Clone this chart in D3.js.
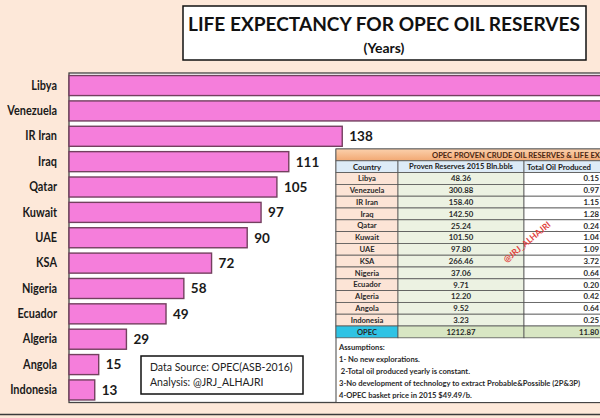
<!DOCTYPE html>
<html>
<head>
<meta charset="utf-8">
<script src="https://cdn.jsdelivr.net/npm/d3@7/dist/d3.min.js"></script>
<style>
  html, body { margin: 0; padding: 0; background: #fde8d9; }
  svg { display: block; font-family: Lato, "Open Sans", sans-serif; }
</style>
</head>
<body>
<svg id="chart" width="600" height="418"></svg>
<script>
// ---------- data ----------
const countries = ["Libya", "Venezuela", "IR Iran", "Iraq", "Qatar", "Kuwait", "UAE", "KSA", "Nigeria", "Ecuador", "Algeria", "Angola", "Indonesia"];
const lifeYears = [322, 310, 138, 111, 105, 97, 90, 72, 58, 49, 29, 15, 13];
const reserves = ["48.36", "300.88", "158.40", "142.50", "25.24", "101.50", "97.80", "266.46", "37.06", "9.71", "12.20", "9.52", "3.23"];
const produced = ["0.15", "0.97", "1.15", "1.28", "0.24", "1.04", "1.09", "3.72", "0.64", "0.20", "0.42", "0.64", "0.25"];
const opecTotal = ["OPEC", "1212.87", "11.80"];
const tableTitle = "OPEC PROVEN CRUDE OIL RESERVES & LIFE EXPECTANCY";
const colHeaders = ["Country", "Proven Reserves 2015 Bln.bbls", "Total Oil Produced"];
const assumptions = [
  "Assumptions:",
  "1- No new explorations.",
  " 2-Total oil produced yearly is constant.",
  "3-No development of technology to extract Probable&Possible (2P&3P)",
  "4-OPEC basket price in 2015 $49.49/b."
];
const titleText = "LIFE EXPECTANCY FOR OPEC OIL RESERVES";
const subtitleText = "(Years)";
const sourceLines = ["Data Source: OPEC(ASB-2016)", "Analysis: @JRJ_ALHAJRI"];
const watermark = "@JRJ_ALHAJRI";

// ---------- setup ----------
const svg = d3.select("#chart");
const W = 600, H = 418;

svg.append("rect").attr("x", 0).attr("y", 0).attr("width", W).attr("height", H).attr("fill", "#fde8d9");

// title box
svg.append("rect").attr("x", 183).attr("y", 6).attr("width", 403).attr("height", 54)
  .attr("fill", "#ffffff").attr("stroke", "#111").attr("stroke-width", 1.5);
svg.append("text").attr("x", 384).attr("y", 31).attr("text-anchor", "middle")
  .attr("font-size", 18).attr("font-weight", 700).attr("fill", "#111")
  .attr("textLength", 392).attr("lengthAdjust", "spacingAndGlyphs")
  .text(titleText);
svg.append("text").attr("x", 384).attr("y", 53).attr("text-anchor", "middle")
  .attr("font-size", 14).attr("font-weight", 700).attr("fill", "#111")
  .text(subtitleText);

// plot frame
const plotTop = 73, plotBottom = 402.5, plotLeft = 69;
svg.append("rect").attr("x", plotLeft).attr("y", plotTop).attr("width", W + 20 - plotLeft).attr("height", plotBottom - plotTop)
  .attr("fill", "#ffffff").attr("stroke", "#444").attr("stroke-width", 1.3);

// scales
const x = d3.scaleLinear().domain([0, 300]).range([plotLeft, plotLeft + 594]);
const y = d3.scaleBand().domain(countries).range([plotTop, plotBottom]).paddingInner(0.21).paddingOuter(0.1);

// bars
const bars = svg.append("g");
bars.selectAll("rect").data(countries).join("rect")
  .attr("x", x(0))
  .attr("y", d => y(d))
  .attr("width", (d, i) => x(lifeYears[i]) - x(0))
  .attr("height", y.bandwidth())
  .attr("fill", "#f57edb")
  .attr("stroke", "#73405f")
  .attr("stroke-width", 1.4);

// value labels (those past the right edge are off-canvas in the original, so skipped)
const visible = countries.map((c, i) => ({ c, v: lifeYears[i] })).filter(d => x(d.v) + 7 < W - 20);
bars.selectAll("text").data(visible).join("text")
  .attr("x", d => x(d.v) + 7)
  .attr("y", d => y(d.c) + y.bandwidth() / 2)
  .attr("dy", "0.36em")
  .attr("font-size", 13.5).attr("font-weight", 700).attr("fill", "#1a1a1a")
  .text(d => d.v);

// category axis labels
const yAxis = d3.axisLeft(y).tickSize(0).tickPadding(0);
const ax = svg.append("g").attr("transform", `translate(57,0)`).call(yAxis);
ax.select(".domain").remove();
ax.selectAll("text").attr("font-size", 13).attr("font-weight", 700).attr("fill", "#1a1a1a")
  .attr("font-family", 'Lato, "Open Sans", sans-serif')
  .attr("transform", "scale(0.84,1)");

// ---------- table ----------
const tX = 336, tTop = 149, rowH = 11.8;
const colX = [336, 398, 524, 720];
const tbl = svg.append("g");
tbl.append("rect").attr("x", tX).attr("y", tTop).attr("width", W - tX + 10).attr("height", plotBottom - tTop)
  .attr("fill", "#ffffff").attr("stroke", "#444").attr("stroke-width", 1);

// header row
const grad = svg.append("defs").append("linearGradient").attr("id", "hdr").attr("x1", 0).attr("y1", 0).attr("x2", 0).attr("y2", 1);
grad.append("stop").attr("offset", "0%").attr("stop-color", "#fbd0ac");
grad.append("stop").attr("offset", "100%").attr("stop-color", "#f2a872");
tbl.append("rect").attr("x", tX).attr("y", tTop).attr("width", W - tX + 10).attr("height", rowH)
  .attr("fill", "url(#hdr)").attr("stroke", "#555").attr("stroke-width", 0.8);
tbl.append("text").attr("x", 432).attr("y", tTop + rowH / 2).attr("dy", "0.36em")
  .attr("font-size", 7.6).attr("font-weight", 700).attr("fill", "#4a2612")
  .text(tableTitle);

// column headers
const chY = tTop + rowH;
colHeaders.forEach((h, c) => {
  tbl.append("rect").attr("x", colX[c]).attr("y", chY).attr("width", colX[c + 1] - colX[c]).attr("height", rowH)
    .attr("fill", "#ddebf7").attr("stroke", "#555").attr("stroke-width", 0.8);
});
tbl.append("text").attr("x", (colX[0] + colX[1]) / 2).attr("y", chY + rowH / 2).attr("dy", "0.36em")
  .attr("text-anchor", "middle").attr("font-size", 7.8).attr("font-weight", 700).attr("fill", "#222").text(colHeaders[0]);
tbl.append("text").attr("x", (colX[1] + colX[2]) / 2).attr("y", chY + rowH / 2).attr("dy", "0.36em")
  .attr("text-anchor", "middle").attr("font-size", 7.6).attr("font-weight", 700).attr("fill", "#222").text(colHeaders[1]);
tbl.append("text").attr("x", colX[2] + 3).attr("y", chY + rowH / 2).attr("dy", "0.36em")
  .attr("text-anchor", "start").attr("font-size", 7.8).attr("font-weight", 700).attr("fill", "#222").text(colHeaders[2]);

// data rows
const rows = countries.map((c, i) => [c, reserves[i], produced[i]]);
rows.push(opecTotal);
const dataTop = chY + rowH;
rows.forEach((r, i) => {
  const ry = dataTop + i * rowH;
  const isTotal = i === rows.length - 1;
  const fills = isTotal ? ["#2ec3e4", "#d8e6c3", "#d8e6c3"] : ["#fce4d6", "#ecf2e2", "#ffffff"];
  for (let c = 0; c < 3; c++) {
    tbl.append("rect").attr("x", colX[c]).attr("y", ry).attr("width", colX[c + 1] - colX[c]).attr("height", rowH)
      .attr("fill", fills[c]).attr("stroke", "#555").attr("stroke-width", 0.8);
  }
  tbl.append("text").attr("x", (colX[0] + colX[1]) / 2).attr("y", ry + rowH / 2).attr("dy", "0.36em")
    .attr("text-anchor", "middle").attr("font-size", 7.6).attr("font-weight", 700).attr("fill", "#2a2a2a").text(r[0]);
  tbl.append("text").attr("x", (colX[1] + colX[2]) / 2).attr("y", ry + rowH / 2).attr("dy", "0.36em")
    .attr("text-anchor", "middle").attr("font-size", 7.8).attr("font-weight", 700).attr("fill", "#2a2a2a").text(r[1]);
  tbl.append("text").attr("x", 599).attr("y", ry + rowH / 2).attr("dy", "0.36em")
    .attr("text-anchor", "end").attr("font-size", 7.8).attr("font-weight", 700).attr("fill", "#2a2a2a").text(r[2]);
});

// watermark
tbl.append("text").attr("transform", "translate(527,242) rotate(-40)")
  .attr("text-anchor", "middle").attr("dy", "0.35em")
  .attr("font-size", 8.5).attr("font-weight", 700).attr("fill", "#e0403a")
  .text(watermark);

// assumptions
assumptions.forEach((a, i) => {
  tbl.append("text").attr("x", 339).attr("y", 350 + i * 12)
    .attr("font-size", 7.6).attr("font-weight", 700).attr("fill", "#2a2a2a")
    .attr("xml:space", "preserve").style("white-space", "pre")
    .text(a);
});

// data source box
svg.append("rect").attr("x", 141).attr("y", 356).attr("width", 162).attr("height", 38)
  .attr("fill", "#ffffff").attr("stroke", "#111").attr("stroke-width", 1.5);
sourceLines.forEach((s, i) => {
  svg.append("text").attr("x", 150).attr("y", 371 + i * 15)
    .attr("font-size", 10.5).attr("fill", "#222").text(s);
});

// bottom strip line
svg.append("line").attr("x1", 0).attr("x2", W).attr("y1", 414.5).attr("y2", 414.5)
  .attr("stroke", "#3a3a3a").attr("stroke-width", 1.6);
</script>
</body>
</html>
